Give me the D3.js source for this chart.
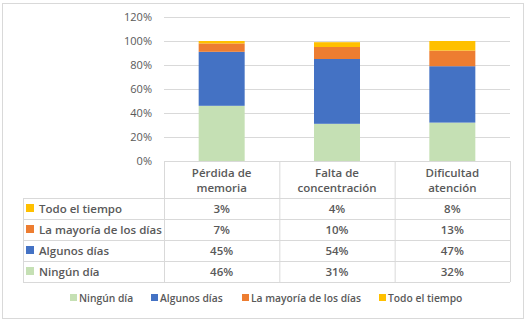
<!DOCTYPE html>
<html>
<head>
<meta charset="utf-8">
<script src="https://cdn.jsdelivr.net/npm/d3@7"></script>
<style>
  body { margin: 0; background: #fff; }
  text { font-family: "Open Sans", "Noto Sans", sans-serif; fill: #595959; }
</style>
</head>
<body>
<svg id="chart" width="527" height="321"></svg>
<script>
// data
var categories = [["Pérdida de", "memoria"], ["Falta de", "concentración"], ["Dificultad", "atención"]];
var seriesNames = ["Ningún día", "Algunos días", "La mayoría de los días", "Todo el tiempo"];
var seriesColors = ["#C5E0B4", "#4472C4", "#ED7D31", "#FFC000"];
var ningun = [46, 31, 32];
var algunos = [45, 54, 47];
var mayoria = [7, 10, 13];
var todo = [3, 4, 8];
var yTicks = [0, 20, 40, 60, 80, 100, 120];

var values = [ningun, algunos, mayoria, todo];
var rows = categories.map(function (c, i) {
  var r = { idx: i };
  seriesNames.forEach(function (s, k) { r[s] = values[k][i]; });
  return r;
});

var svg = d3.select('#chart');

// outer frame
svg.append('rect')
  .attr('x', 2.5).attr('y', 3.5)
  .attr('width', 521).attr('height', 315)
  .attr('fill', 'none').attr('stroke', '#D9D9D9');

var x = d3.scaleBand().domain([0, 1, 2]).range([164, 510]).paddingInner(0).paddingOuter(0);
var y = d3.scaleLinear().domain([0, 120]).range([161, 17]);

// gridlines
svg.append('g')
  .selectAll('line')
  .data(yTicks)
  .enter()
  .append('line')
  .attr('x1', 164).attr('x2', 510)
  .attr('y1', function (d) { return Math.round(y(d)) + 0.5; })
  .attr('y2', function (d) { return Math.round(y(d)) + 0.5; })
  .attr('stroke', '#D9D9D9');

// y axis labels
var yAxis = d3.axisLeft(y).tickValues(yTicks).tickSize(0).tickPadding(12)
  .tickFormat(function (d) { return d + '%'; });
var ga = svg.append('g').attr('transform', 'translate(164,0)').call(yAxis);
ga.select('.domain').remove();
ga.selectAll('text').style('font-size', '11px').style('font-family', null).attr('fill', '#595959');

// stacked bars
var stack = d3.stack().keys(seriesNames)(rows);
var bw = 46;
svg.append('g')
  .selectAll('g')
  .data(stack)
  .enter()
  .append('g')
  .attr('fill', function (d, i) { return seriesColors[i]; })
  .selectAll('rect')
  .data(function (d) { return d; })
  .enter()
  .append('rect')
  .attr('x', function (d) { return x(d.data.idx) + x.bandwidth() / 2 - bw / 2; })
  .attr('width', bw)
  .attr('y', function (d) { return y(Math.min(d[1], 100)); })
  .attr('height', function (d) { return y(d[0]) - y(Math.min(d[1], 100)); });

// data table
var tbl = svg.append('g');
var rowY = d3.scaleBand().domain([3, 2, 1, 0]).range([198, 282]);
var lineC = '#D9D9D9';

// horizontal lines
tbl.selectAll('line.h')
  .data([198, 219, 240, 261, 282])
  .enter()
  .append('line')
  .attr('x1', 23).attr('x2', 510)
  .attr('y1', function (d) { return d + 0.5; }).attr('y2', function (d) { return d + 0.5; })
  .attr('stroke', lineC);
tbl.append('line').attr('x1', 164).attr('x2', 510).attr('y1', 161.5).attr('y2', 161.5).attr('stroke', lineC);
// vertical lines
tbl.selectAll('line.v')
  .data([0, 1, 2, 3])
  .enter()
  .append('line')
  .attr('x1', function (d) { return (d < 3 ? x(d) : x(2) + x.bandwidth()) + 0.5; })
  .attr('x2', function (d) { return (d < 3 ? x(d) : x(2) + x.bandwidth()) + 0.5; })
  .attr('y1', 161).attr('y2', 282)
  .attr('stroke', lineC);
tbl.append('line').attr('x1', 23.5).attr('x2', 23.5).attr('y1', 198).attr('y2', 282).attr('stroke', lineC);

// header (categories)
categories.forEach(function (c, i) {
  var t = tbl.append('text')
    .attr('x', x(i) + x.bandwidth() / 2)
    .attr('text-anchor', 'middle')
    .style('font-size', '11.5px').style('font-weight', 600);
  t.append('tspan').attr('x', x(i) + x.bandwidth() / 2).attr('y', 177).text(c[0]);
  t.append('tspan').attr('x', x(i) + x.bandwidth() / 2).attr('y', 192).text(c[1]);
});

// rows
seriesNames.forEach(function (s, k) {
  var ry = rowY(k);
  tbl.append('rect')
    .attr('x', 26).attr('y', ry + 6).attr('width', 8).attr('height', 8)
    .attr('fill', seriesColors[k]);
  tbl.append('text')
    .attr('x', 39).attr('y', ry + 14.5)
    .style('font-size', '11.5px').style('font-weight', 600)
    .text(s);
  values[k].forEach(function (v, i) {
    tbl.append('text')
      .attr('x', x(i) + x.bandwidth() / 2).attr('y', ry + 14.5)
      .attr('text-anchor', 'middle')
      .style('font-size', '11.5px').style('font-weight', 600)
      .text(v + '%');
  });
});

// legend
var legX = [70, 151, 242, 379];
var leg = svg.append('g');
seriesNames.forEach(function (s, k) {
  leg.append('rect')
    .attr('x', legX[k]).attr('y', 294).attr('width', 7).attr('height', 7)
    .attr('fill', seriesColors[k]);
  leg.append('text')
    .attr('x', legX[k] + 9).attr('y', 301.5)
    .style('font-size', '10.3px').style('font-weight', 600)
    .text(s);
});
</script>
</body>
</html>
